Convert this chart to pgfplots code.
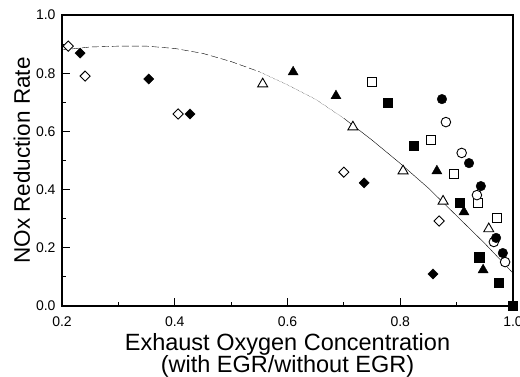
\documentclass[border=0pt]{standalone}
\usepackage{pgfplots}
\pgfplotsset{compat=1.18}
\usepackage{fontspec}
\setmainfont{Liberation Sans}
\begin{document}
\begin{tikzpicture}[x=1pt,y=1pt]
\useasboundingbox (0,0) rectangle (520,376);
\begin{axis}[
  at={(62pt,70pt)}, anchor=south west,
  scale only axis, width=451pt, height=291pt,
  xmin=0.2, xmax=1.0, ymin=0, ymax=1.0,
  xtick={0.2,0.4,...,1.0}, ytick={0,0.2,...,1.0},
  minor x tick num=1, minor y tick num=1,
  xtick pos=bottom, ytick pos=left,
  tick align=inside,
  major tick length=8pt, minor tick length=4pt,
  every tick/.style={black, line width=1pt},
  axis line style={line width=1.3pt},
  /pgf/number format/assume math mode=true,
  /pgf/number format/.cd, fixed, fixed zerofill, precision=1, /pgfplots/.cd,
  tick label style={font=\fontsize{14}{16}\selectfont},
  xticklabel style={yshift=-10pt, inner sep=1pt},
  yticklabel style={xshift=-3pt},
  xlabel={Exhaust Oxygen Concentration\\(with EGR/without EGR)},
  xlabel style={align=center, font=\fontsize{23.5}{22}\selectfont, yshift=-4pt, inner sep=1pt},
  ylabel={NOx Reduction Rate},
  ylabel style={font=\fontsize{22.5}{22}\selectfont, at={(axis description cs:-0.089,0.5)}, anchor=center},
  clip=false,
]
% fitted curve
\addplot[black, thin, dash pattern=on 7pt off 3pt] coordinates {
 (0.2,0.88) (0.25,0.89) (0.3,0.893) (0.35,0.893) (0.4,0.885) (0.45,0.868) (0.5,0.84) (0.55,0.805)};
\addplot[black, thin, densely dotted] coordinates {
 (0.55,0.805) (0.6,0.76) (0.65,0.71) (0.7,0.645)};
\addplot[black, thin] coordinates {
 (0.7,0.645) (0.75,0.57) (0.8,0.49) (0.85,0.405) (0.9,0.31) (0.95,0.215) (1.0,0.113)};
% open diamonds
\addplot[only marks, mark=square*, mark size=3.6pt, mark options={rotate=45, fill=white, draw=black, line width=0.9pt}] coordinates {
 (0.211,0.893) (0.241,0.79) (0.406,0.66) (0.70,0.46) (0.869,0.292)};
% filled diamonds
\addplot[only marks, mark=square*, mark size=3.6pt, mark options={rotate=45, fill=black, draw=black}] coordinates {
 (0.232,0.869) (0.354,0.78) (0.427,0.66) (0.736,0.423) (0.858,0.11)};
% open triangles
\addplot[only marks, mark=triangle*, mark size=5.8pt, mark options={fill=white, draw=black, line width=0.9pt}] coordinates {
 (0.556,0.763) (0.716,0.615) (0.805,0.464) (0.876,0.36) (0.957,0.265)};
% filled triangles
\addplot[only marks, mark=triangle*, mark size=5.8pt, mark options={fill=black, draw=black}] coordinates {
 (0.61,0.804) (0.686,0.722) (0.865,0.464) (0.913,0.323) (0.947,0.124)};
% open squares
\addplot[only marks, mark=square*, mark size=4.6pt, mark options={fill=white, draw=black, line width=0.9pt}] coordinates {
 (0.75,0.77) (0.854,0.57) (0.895,0.454) (0.938,0.354) (0.972,0.302)};
% filled squares
\addplot[only marks, mark=square*, mark size=4.6pt, mark options={fill=black, draw=black}] coordinates {
 (0.778,0.70) (0.824,0.55) (0.906,0.354) (0.94,0.168) (0.974,0.079) (1.0,0.0)};
% open circles
\addplot[only marks, mark=*, mark size=4.8pt, mark options={fill=white, draw=black, line width=0.9pt}] coordinates {
 (0.881,0.632) (0.909,0.526) (0.936,0.381) (0.966,0.22) (0.986,0.151)};
% filled circles
\addplot[only marks, mark=*, mark size=4.8pt, mark options={fill=black, draw=black}] coordinates {
 (0.874,0.711) (0.922,0.491) (0.943,0.412) (0.97,0.234) (0.982,0.182)};
\end{axis}
\end{tikzpicture}
\end{document}
